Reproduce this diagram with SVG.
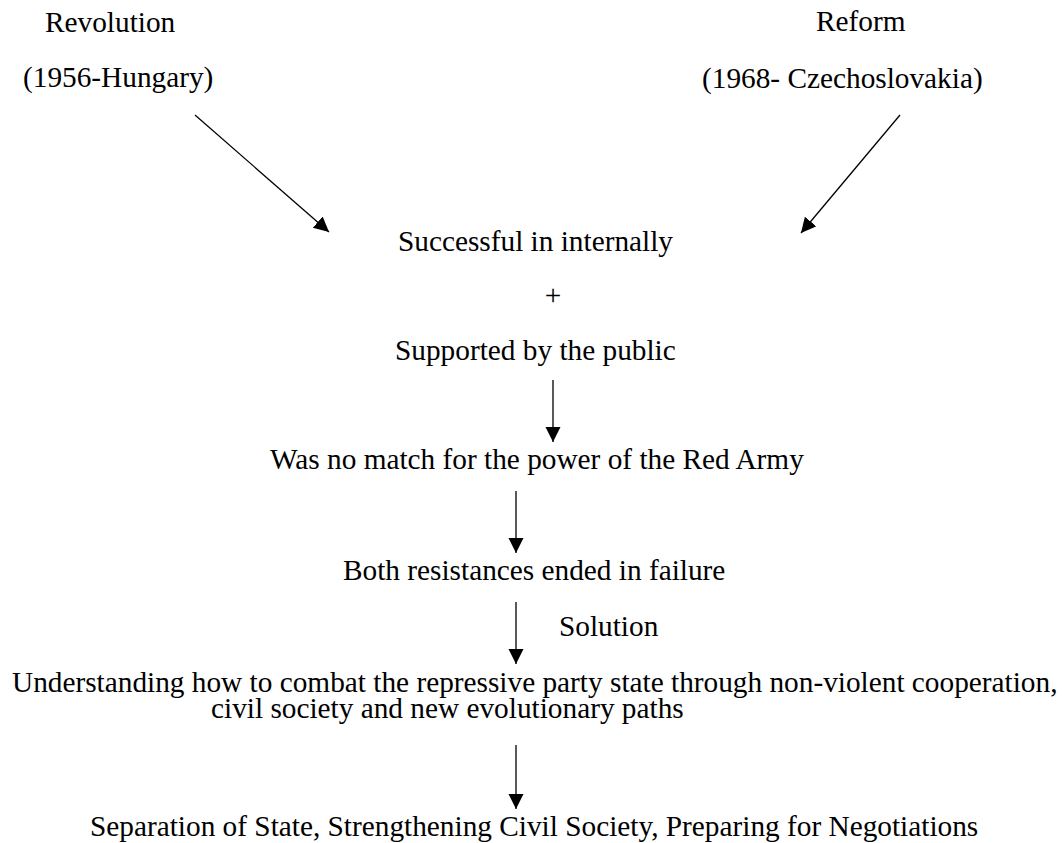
<svg xmlns="http://www.w3.org/2000/svg" width="1064" height="843" viewBox="0 0 1064 843">
<style>
text{font-family:"Liberation Serif","Times New Roman",serif;font-size:29.3px;fill:#000}
.c{stroke:#000;stroke-width:1.3;fill:none}
</style>
<defs>
<marker id="ah" markerUnits="userSpaceOnUse" markerWidth="16" markerHeight="16" refX="15" refY="7.5" orient="auto">
<path d="M0,0 L15,7.5 L0,15 Z" fill="#000"/>
</marker>
</defs>
<rect width="1064" height="843" fill="#fff"/>
<g id="connectors">
<line class="c" x1="195" y1="115" x2="329" y2="232" marker-end="url(#ah)"/>
<line class="c" x1="900" y1="115" x2="801" y2="233" marker-end="url(#ah)"/>
<line class="c" x1="553" y1="380" x2="553" y2="442" marker-end="url(#ah)"/>
<line class="c" x1="516" y1="491" x2="516" y2="553" marker-end="url(#ah)"/>
<line class="c" x1="516" y1="602" x2="516" y2="664" marker-end="url(#ah)"/>
<line class="c" x1="516" y1="745" x2="516" y2="809" marker-end="url(#ah)"/>
</g>
<g id="revolution"><text x="45" y="32">Revolution</text><text x="23" y="87">(1956-Hungary)</text></g>
<g id="reform"><text x="816" y="31">Reform</text><text x="702" y="88">(1968- Czechoslovakia)</text></g>
<g id="successful"><text x="398" y="251">Successful in internally</text></g>
<g id="plus"><text x="553" y="305" text-anchor="middle">+</text></g>
<g id="supported"><text x="395" y="360">Supported by the public</text></g>
<g id="nomatch"><text x="270" y="469">Was no match for the power of the Red Army</text></g>
<g id="failure"><text x="343" y="580">Both resistances ended in failure</text></g>
<g id="solution-label"><text x="559" y="636">Solution</text></g>
<g id="understanding"><text x="12" y="692">Understanding how to combat the repressive party state through non-violent cooperation,</text><text x="211" y="718">civil society and new evolutionary paths</text></g>
<g id="separation"><text x="90" y="836">Separation of State, Strengthening Civil Society, Preparing for Negotiations</text></g>
</svg>
